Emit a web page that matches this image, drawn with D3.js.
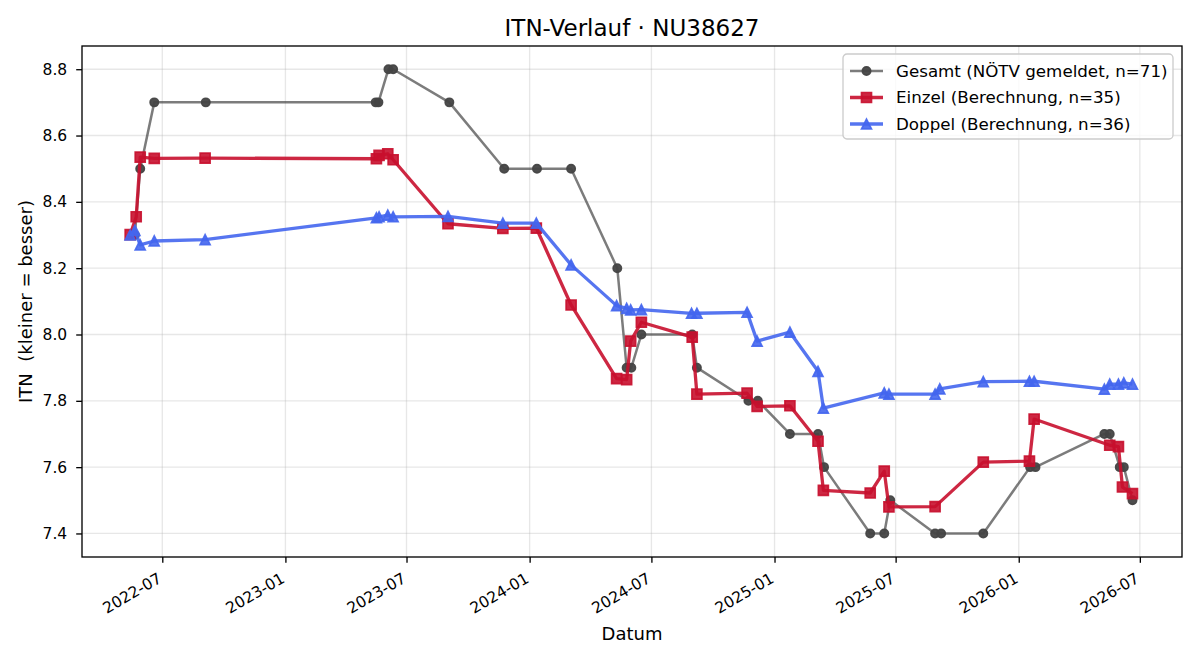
<!DOCTYPE html>
<html>
<head>
<meta charset="utf-8">
<script src="https://cdn.jsdelivr.net/npm/d3@7"></script>
<style>
    body { margin: 0; background: #fff; }
    text { font-family: "DejaVu Sans", sans-serif; fill: #000; }
</style>
</head>
<body>
<div id="chart"></div>
<script>
// --- data ---
var gesamtDates = ["2022-05-21", "2022-05-29", "2022-06-19", "2022-09-04", "2023-05-16", "2023-05-20",
    "2023-06-04", "2023-06-11", "2023-09-03", "2023-11-24", "2024-01-12", "2024-03-03", "2024-05-11",
    "2024-05-25", "2024-06-01", "2024-06-16", "2024-08-31", "2024-09-07", "2024-11-23", "2024-12-07",
    "2025-01-24", "2025-03-07", "2025-03-16", "2025-05-24", "2025-06-14", "2025-06-23", "2025-08-29",
    "2025-09-07", "2025-11-09", "2026-01-18", "2026-01-26", "2026-05-09", "2026-05-17", "2026-06-01",
    "2026-06-07", "2026-06-20"]
var gesamtValues = [8.3, 8.5, 8.7, 8.7, 8.7, 8.7, 8.8, 8.8, 8.7, 8.5, 8.5, 8.5, 8.2, 7.9, 7.9, 8.0, 8.0, 7.9,
    7.8, 7.8, 7.7, 7.7, 7.6, 7.4, 7.4, 7.5, 7.4, 7.4, 7.4, 7.6, 7.6, 7.7, 7.7, 7.6, 7.6, 7.5]

var einzelDates = ["2022-05-14", "2022-05-23", "2022-05-29", "2022-06-19", "2022-09-03", "2023-05-17",
    "2023-05-21", "2023-06-03", "2023-06-11", "2023-09-01", "2023-11-22", "2024-01-11", "2024-03-03",
    "2024-05-10", "2024-05-25", "2024-05-31", "2024-06-16", "2024-08-31", "2024-09-07", "2024-11-21",
    "2024-12-06", "2025-01-24", "2025-03-07", "2025-03-15", "2025-05-24", "2025-06-14", "2025-06-21",
    "2025-08-29", "2025-11-09", "2026-01-17", "2026-01-24", "2026-05-17", "2026-05-30", "2026-06-05",
    "2026-06-20"]
var einzelValues = [8.301, 8.355, 8.535, 8.531, 8.532, 8.530, 8.540, 8.545, 8.527, 8.334, 8.320, 8.321,
    8.089, 7.867, 7.864, 7.980, 8.037, 7.992, 7.820, 7.823, 7.783, 7.785, 7.678, 7.530, 7.522, 7.588,
    7.480, 7.481, 7.615, 7.618, 7.745, 7.666, 7.662, 7.540, 7.520]

var doppelDates = ["2022-05-14", "2022-05-21", "2022-05-29", "2022-06-19", "2022-09-03", "2023-05-17",
    "2023-05-21", "2023-06-03", "2023-06-11", "2023-09-01", "2023-11-22", "2024-01-11", "2024-03-03",
    "2024-05-10", "2024-05-25", "2024-05-31", "2024-06-16", "2024-08-30", "2024-09-07", "2024-11-21",
    "2024-12-06", "2025-01-24", "2025-03-07", "2025-03-15", "2025-06-14", "2025-06-21", "2025-08-29",
    "2025-09-05", "2025-11-09", "2026-01-17", "2026-01-24", "2026-05-09", "2026-05-17", "2026-05-30",
    "2026-06-07", "2026-06-20"]
var doppelValues = [8.300, 8.314, 8.270, 8.282, 8.286, 8.352, 8.355, 8.360, 8.355, 8.356, 8.336, 8.336,
    8.210, 8.087, 8.079, 8.074, 8.075, 8.064, 8.064, 8.067, 7.980, 8.007, 7.889, 7.778, 7.824, 7.820,
    7.820, 7.836, 7.858, 7.859, 7.859, 7.835, 7.850, 7.850, 7.854, 7.850]

var yTicks = [7.4, 7.6, 7.8, 8.0, 8.2, 8.4, 8.6, 8.8]
var xTickDates = ["2022-07-01", "2023-01-01", "2023-07-01", "2024-01-01", "2024-07-01", "2025-01-01",
    "2025-07-01", "2026-01-01", "2026-07-01"]
var seriesLabels = ["Gesamt (NÖTV gemeldet, n=71)", "Einzel (Berechnung, n=35)", "Doppel (Berechnung, n=36)"]

var width = 1200
var height = 660
var margin = { top: 46, right: 18, bottom: 103, left: 82 }
var plotW = width - margin.left - margin.right
var plotH = height - margin.top - margin.bottom

var parse = d3.timeParse("%Y-%m-%d")

var svg = d3.select("#chart")
    .append("svg")
    .attr("width", width)
    .attr("height", height)

var g = svg.append("g")
    .attr("transform", `translate(${margin.left}, ${margin.top})`)

var x = d3.scaleTime()
    .domain([parse("2022-03-03"), parse("2026-09-02")])
    .range([0, plotW])

var y = d3.scaleLinear()
    .domain([7.329, 8.870])
    .range([plotH, 0])

// grid
g.append("g")
    .selectAll("line")
    .data(xTickDates.map(parse))
    .enter()
    .append("line")
    .attr("x1", d => x(d)).attr("x2", d => x(d))
    .attr("y1", 0).attr("y2", plotH)
    .style("stroke", "#b0b0b0").style("stroke-opacity", 0.3).style("stroke-width", 1.33)

g.append("g")
    .selectAll("line")
    .data(yTicks)
    .enter()
    .append("line")
    .attr("x1", 0).attr("x2", plotW)
    .attr("y1", d => y(d)).attr("y2", d => y(d))
    .style("stroke", "#b0b0b0").style("stroke-opacity", 0.3).style("stroke-width", 1.33)

// axes
var xAxis = g.append("g")
    .attr("transform", `translate(0,${plotH})`)
    .call(d3.axisBottom(x)
        .tickValues(xTickDates.map(parse))
        .tickFormat(d3.timeFormat("%Y-%m"))
        .tickSize(5.8))
xAxis.select(".domain").remove()
xAxis.selectAll(".tick line").style("stroke-width", 1.33)
// rotated like autofmt_xdate: right end of the baseline sits under the tick
xAxis.selectAll(".tick text")
    .style("font-size", "15.5px")
    .attr("text-anchor", "end")
    .attr("x", 0)
    .attr("y", 0)
    .attr("dy", null)
    .attr("transform", "translate(0,24.5) rotate(-30)")

var yAxis = g.append("g")
    .call(d3.axisLeft(y)
        .tickValues(yTicks)
        .tickFormat(d3.format(".1f"))
        .tickSize(5.8)
        .tickPadding(9))
yAxis.select(".domain").remove()
yAxis.selectAll(".tick line").style("stroke-width", 1.33)
yAxis.selectAll(".tick text").style("font-size", "15.5px")

// lines
var line = d3.line()
    .x(d => x(d.date))
    .y(d => y(d.value))

function toPoints(dates, values) {
    return dates.map((d, i) => ({ date: parse(d), value: values[i] }))
}

function markerPath(kind, s) {
    if (kind === "circle") {
        return d3.symbol().type(d3.symbolCircle).size(Math.PI * s * s / 4)()
    }
    if (kind === "square") {
        var h = s / 2
        return `M${-h},${-h}H${h}V${h}H${-h}Z`
    }
    var t = s / 2
    return `M0,${-t}L${t},${t}L${-t},${t}Z`
}

var series = [
    { points: toPoints(gesamtDates, gesamtValues), lineColor: "#444444", lineOpacity: 0.7, lw: 2.5,
      marker: "circle", size: 8.3, color: "#444444", opacity: 0.95 },
    { points: toPoints(einzelDates, einzelValues), lineColor: "#c8102e", lineOpacity: 0.9, lw: 3.3,
      marker: "square", size: 10, color: "#c8102e", opacity: 0.9 },
    { points: toPoints(doppelDates, doppelValues), lineColor: "#4466ee", lineOpacity: 0.9, lw: 3.3,
      marker: "triangle", size: 10, color: "#4466ee", opacity: 0.9 }
]

var plotArea = g.append("g")

series.forEach(s => {
    var sg = plotArea.append("g")
    sg.append("path")
        .datum(s.points)
        .attr("d", line)
        .style("fill", "none")
        .style("stroke", s.lineColor)
        .style("stroke-opacity", s.lineOpacity)
        .style("stroke-width", s.lw)
        .style("stroke-linejoin", "round")

    sg.selectAll(".m")
        .data(s.points)
        .enter()
        .append("path")
        .attr("transform", d => `translate(${x(d.date)},${y(d.value)})`)
        .attr("d", markerPath(s.marker, s.size))
        .style("fill", s.color)
        .style("fill-opacity", s.opacity)
        .style("stroke", s.color)
        .style("stroke-opacity", s.opacity)
        .style("stroke-width", 1.67)
})

// frame
g.append("rect")
    .attr("x", 0).attr("y", 0)
    .attr("width", plotW).attr("height", plotH)
    .style("fill", "none").style("stroke", "#000").style("stroke-width", 1.33)

// labels
svg.append("text")
    .attr("x", margin.left + plotW / 2)
    .attr("y", 36)
    .attr("text-anchor", "middle")
    .style("font-size", "23px")
    .text("ITN-Verlauf · NU38627")

svg.append("text")
    .attr("x", margin.left + plotW / 2)
    .attr("y", 640)
    .attr("text-anchor", "middle")
    .style("font-size", "18px")
    .text("Datum")

svg.append("text")
    .attr("transform", `translate(32, ${margin.top + plotH / 2}) rotate(-90)`)
    .attr("text-anchor", "middle")
    .style("font-size", "18px")
    .style("white-space", "pre")
    .text("ITN  (kleiner = besser)")

// legend
var legend = svg.append("g")
    .attr("transform", "translate(843, 54)")

legend.append("rect")
    .attr("width", 330).attr("height", 85)
    .attr("rx", 4)
    .style("fill", "#fff").style("fill-opacity", 0.8)
    .style("stroke", "#cccccc").style("stroke-width", 1.33)

series.forEach((s, i) => {
    var row = legend.append("g")
        .attr("transform", `translate(0, ${17 + i * 26.5})`)
    row.append("line")
        .attr("x1", 7).attr("x2", 40)
        .style("stroke", s.lineColor)
        .style("stroke-opacity", s.lineOpacity)
        .style("stroke-width", s.lw)
    row.append("path")
        .attr("transform", "translate(23.5,0)")
        .attr("d", markerPath(s.marker, s.size))
        .style("fill", s.color).style("fill-opacity", s.opacity)
        .style("stroke", s.color).style("stroke-opacity", s.opacity)
        .style("stroke-width", 1.67)
    row.append("text")
        .attr("x", 53)
        .attr("dy", "0.35em")
        .style("font-size", "16.7px")
        .text(seriesLabels[i])
})
</script>
</body>
</html>
